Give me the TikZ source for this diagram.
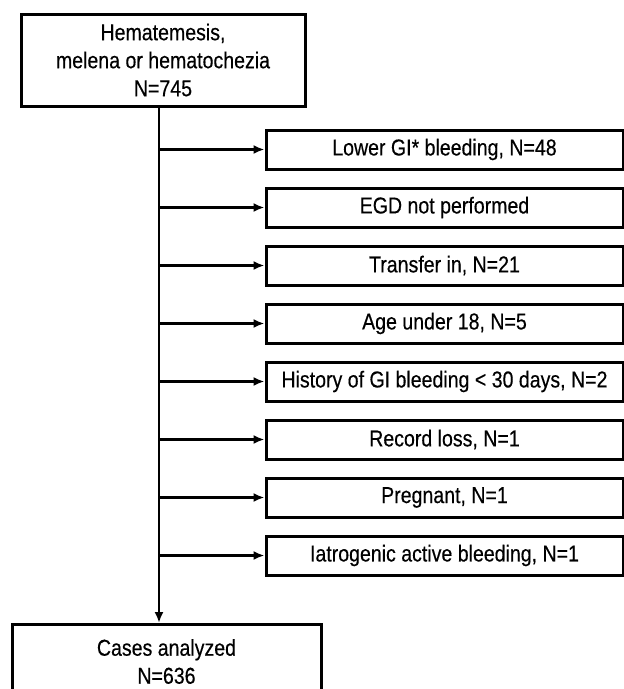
\documentclass[tikz,border=0pt]{standalone}
\usepackage{fontspec}
\setmainfont{Liberation Sans}[FakeStretch=0.85,FakeBold=0.4]
\usepackage{tikz}
\usetikzlibrary{arrows.meta,positioning,calc}
\tikzset{txt/.style={font=\fontsize{23}{28}\selectfont, align=center},
  mainbox/.style={txt, draw=black, line width=3pt, inner sep=0pt},
  sidebox/.style={mainbox, minimum width=357, minimum height=39},
  arr/.style={-{Latex[length=11pt,width=9pt]}, line width=2.4pt}}

\begin{document}
\begin{tikzpicture}[x=1pt,y=-1pt]
\clip (0,0) rectangle (624,689);

\node[mainbox, minimum width=284, minimum height=92] (top) at (163,60)
  {Hematemesis,\\melena or hematochezia\\N=745};
\node[mainbox, minimum width=309, minimum height=74, anchor=north] (bot) at (166.5,623)
  {Cases analyzed\\N=636};
\coordinate (trunk) at ([xshift=-4pt]top.south);

\foreach \t [count=\i] in {{Lower GI* bleeding, N=48},{EGD not performed},
    {Transfer in, N=21},{Age under 18, N=5},{History of GI bleeding < 30 days, N=2},
    {Record loss, N=1},{Pregnant, N=1},{Iatrogenic active bleeding, N=1}}
  {
    \node[sidebox] (s\i) at (444.5,{149.5+58*(\i-1)}) {\t};
    \draw[arr] (trunk |- s\i.west) -- (s\i.west);
  }

\draw[arr] (trunk) -- (trunk |- bot.north);
\end{tikzpicture}
\end{document}
